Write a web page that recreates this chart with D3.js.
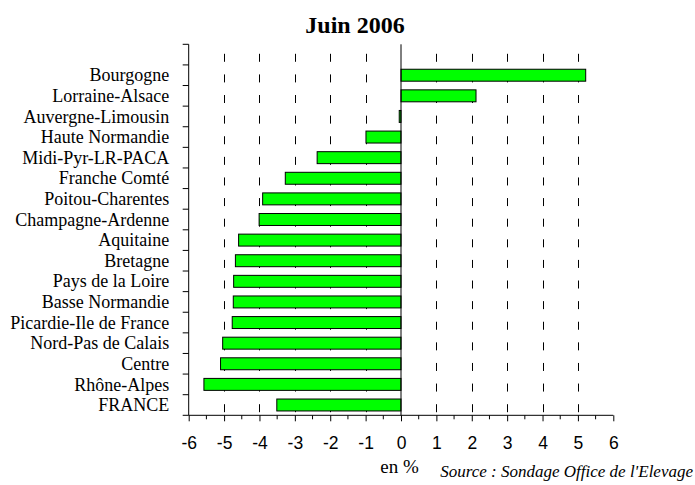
<!DOCTYPE html>
<html>
<head>
<meta charset="utf-8">
<script src="https://cdn.jsdelivr.net/npm/d3@7"></script>
<style>
  body { margin: 0; background: #fff; }
  svg { display: block; }
</style>
</head>
<body>
<script>
// sizes
const w = 695;
const h = 485;
const plotL = 188.7, plotR = 613.3, plotT = 44.3, plotB = 415.3;

// data (top to bottom), first band is empty
const regions = ["", "Bourgogne", "Lorraine-Alsace", "Auvergne-Limousin", "Haute Normandie",
  "Midi-Pyr-LR-PACA", "Franche Comté", "Poitou-Charentes", "Champagne-Ardenne",
  "Aquitaine", "Bretagne", "Pays de la Loire", "Basse Normandie",
  "Picardie-Ile de France", "Nord-Pas de Calais", "Centre", "Rhône-Alpes", "FRANCE"];
const values = [null, 5.22, 2.12, -0.05, -0.99, -2.37, -3.27, -3.91, -4.01,
  -4.59, -4.68, -4.73, -4.74, -4.77, -5.04, -5.10, -5.57, -3.51];
const xTicks = [-6, -5, -4, -3, -2, -1, 0, 1, 2, 3, 4, 5, 6];
const gridVals = [-5, -4, -3, -2, -1, 1, 2, 3, 4, 5];
const minorTicks = [-5.5, -4.5, -3.5, -2.5, -1.5, -0.5, 0.5, 1.5, 2.5, 3.5, 4.5, 5.5];

const svg = d3.select("body").append("svg")
  .attr("width", w)
  .attr("height", h);

const xScale = d3.scaleLinear().domain([-6, 6]).range([plotL, plotR]);
const yScale = d3.scaleBand().domain(regions.map((d, i) => i)).range([plotT, plotB]).paddingInner(0.42).paddingOuter(0.21);

// title
svg.append("text")
  .attr("x", 355)
  .attr("y", 33)
  .attr("text-anchor", "middle")
  .style("font-family", "'Liberation Serif', 'Times New Roman', serif")
  .style("font-weight", "bold")
  .style("font-size", "24px")
  .text("Juin 2006");

// dashed gridlines
const step = (plotB - plotT) / regions.length;
svg.selectAll("line.grid")
  .data(gridVals)
  .enter()
  .append("line")
  .attr("class", "grid")
  .attr("x1", d => Math.round(xScale(d)) + 0.5)
  .attr("x2", d => Math.round(xScale(d)) + 0.5)
  .attr("y1", plotT)
  .attr("y2", plotB)
  .attr("stroke", "#000")
  .attr("stroke-width", 1)
  .attr("stroke-dasharray", "8," + (step - 8))
  .attr("stroke-dashoffset", step - 9.5);

// bars
const data = regions.map((r, i) => [i, values[i]]).filter(d => d[1] !== null);
svg.selectAll("rect.bar")
  .data(data)
  .enter()
  .append("rect")
  .attr("class", "bar")
  .attr("x", d => xScale(Math.min(0, d[1])))
  .attr("y", d => yScale(d[0]))
  .attr("width", d => Math.abs(xScale(d[1]) - xScale(0)))
  .attr("height", yScale.bandwidth())
  .attr("fill", "#00ff00")
  .attr("stroke", "#000")
  .attr("stroke-width", 1);

// zero line
svg.append("line")
  .attr("x1", xScale(0)).attr("x2", xScale(0))
  .attr("y1", plotT).attr("y2", plotB)
  .attr("stroke", "#000");

// x axis
const xAxis = d3.axisBottom(xScale).tickValues(xTicks).tickSize(6).tickFormat(d3.format("d"));
const gx = svg.append("g")
  .attr("transform", "translate(0," + plotB + ")")
  .call(xAxis);
gx.select(".domain").attr("d", "M" + plotL + ",0H" + plotR);
gx.selectAll("text")
  .attr("y", 33.5)
  .attr("dy", null)
  .style("font-family", "'Liberation Sans', Arial, sans-serif")
  .style("font-size", "17.5px")
  .attr("fill", "#000")
  .text(d => d < 0 ? "-" + Math.abs(d) : d);
gx.selectAll("line.minor")
  .data(minorTicks)
  .enter()
  .append("line")
  .attr("class", "minor")
  .attr("x1", d => xScale(d)).attr("x2", d => xScale(d))
  .attr("y1", 0).attr("y2", 4)
  .attr("stroke", "#000");

// y axis: ticks on band boundaries, labels at band centers
const gy = svg.append("g")
  .attr("transform", "translate(" + plotL + ",0)");
gy.append("line")
  .attr("x1", 0).attr("x2", 0)
  .attr("y1", plotT).attr("y2", plotB)
  .attr("stroke", "#000");
gy.selectAll("line.tick")
  .data(d3.range(regions.length + 1))
  .enter()
  .append("line")
  .attr("class", "tick")
  .attr("x1", -6).attr("x2", 0)
  .attr("y1", i => plotT + i * step)
  .attr("y2", i => plotT + i * step)
  .attr("stroke", "#000");
gy.selectAll("text")
  .data(regions.map((r, i) => [i, r]))
  .enter()
  .append("text")
  .attr("x", -19.5)
  .attr("y", d => yScale(d[0]) + yScale.bandwidth() / 2)
  .attr("dy", "0.34em")
  .attr("text-anchor", "end")
  .style("font-family", "'Liberation Serif', 'Times New Roman', serif")
  .style("font-size", "18px")
  .text(d => d[1]);

// axis title and source
svg.append("text")
  .attr("x", 399.5)
  .attr("y", 473)
  .attr("text-anchor", "middle")
  .style("font-family", "'Liberation Serif', 'Times New Roman', serif")
  .style("font-size", "19px")
  .text("en %");

svg.append("text")
  .attr("x", 693)
  .attr("y", 477)
  .attr("text-anchor", "end")
  .style("font-family", "'Liberation Serif', 'Times New Roman', serif")
  .style("font-style", "italic")
  .style("font-size", "17px")
  .text("Source : Sondage Office de l'Elevage");
</script>
</body>
</html>
